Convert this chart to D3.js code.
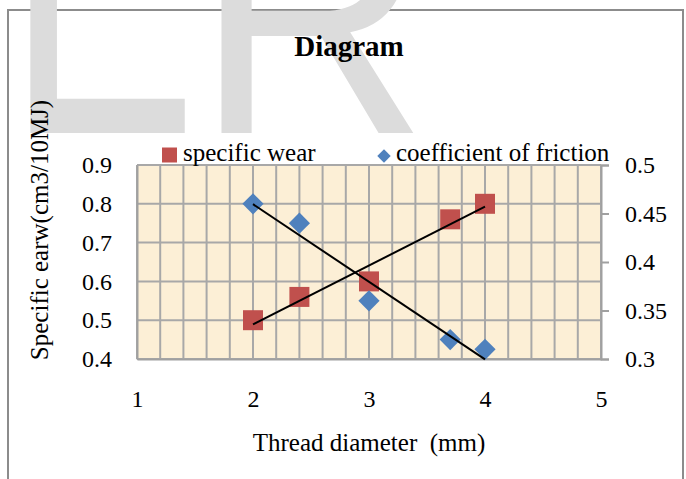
<!DOCTYPE html>
<html>
<head>
<meta charset="utf-8">
<script src="https://cdn.jsdelivr.net/npm/d3@7"></script>
<style>
  body { margin: 0; background: #fff; }
  text { font-family: "Liberation Serif", "Times New Roman", serif; fill: #000; }
</style>
</head>
<body>
<svg id="chart" width="686" height="479"></svg>
<script>
// data
const threadDiameter = [2, 2.4, 3, 3.7, 4];
const specificWear = [0.5, 0.56, 0.6, 0.76, 0.8];
const frictionCoef = [0.46, 0.44, 0.36, 0.32, 0.31];

const xTicks = [1, 2, 3, 4, 5];
const wearTicks = [0.4, 0.5, 0.6, 0.7, 0.8, 0.9];
const frictionTicks = [0.3, 0.35, 0.4, 0.45, 0.5];
const seriesNames = ['specific wear', 'coefficient of friction'];
const seriesColors = ['#c0504d', '#4f81bd'];

const plot = { left: 137, right: 601, top: 165, bottom: 359 };
const serif = '"Liberation Serif", "Times New Roman", serif';

const svg = d3.select('#chart');

// outer chart frame
svg.append('rect')
  .attr('x', 8).attr('y', 10)
  .attr('width', 675).attr('height', 520)
  .attr('fill', 'none')
  .attr('stroke', '#8c8c8c')
  .attr('stroke-width', 2);

// faint watermark letters behind the chart
function watermark(letter, tx, size, sx) {
  svg.append('text')
    .attr('transform', `translate(${tx},133) scale(${sx},1)`)
    .style('font-family', '"Liberation Sans", Arial, sans-serif')
    .style('font-size', size + 'px')
    .style('fill', '#dcdcdc')
    .text(letter);
}
watermark('E', 7, 450, 0.633);
watermark('R', 195, 340, 0.95);

const x = d3.scaleLinear().domain([1, 5]).range([plot.left, plot.right]);
const yWear = d3.scaleLinear().domain([0.4, 0.9]).range([plot.bottom, plot.top]);
const yFric = d3.scaleLinear().domain([0.3, 0.5]).range([plot.bottom, plot.top]);

// plot area
svg.append('rect')
  .attr('x', plot.left).attr('y', plot.top)
  .attr('width', plot.right - plot.left)
  .attr('height', plot.bottom - plot.top)
  .attr('fill', '#fcefd6');

const grid = svg.append('g').attr('stroke', '#a8a8a8').attr('stroke-width', 2);
grid.selectAll('line.v')
  .data(d3.range(0, 21).map(i => 1 + i * 0.2))
  .enter().append('line')
  .attr('class', 'v')
  .attr('x1', d => x(d)).attr('x2', d => x(d))
  .attr('y1', plot.top).attr('y2', plot.bottom);
grid.selectAll('line.h')
  .data(wearTicks)
  .enter().append('line')
  .attr('class', 'h')
  .attr('x1', plot.left).attr('x2', plot.right)
  .attr('y1', d => yWear(d)).attr('y2', d => yWear(d));

// axes
const fmt = d3.format('~f');
const leftAxis = svg.append('g')
  .attr('transform', `translate(${plot.left},0)`)
  .call(d3.axisLeft(yWear).tickValues(wearTicks).tickSize(0).tickPadding(25).tickFormat(fmt));
const rightAxis = svg.append('g')
  .attr('transform', `translate(${plot.right},0)`)
  .call(d3.axisRight(yFric).tickValues(frictionTicks).tickSize(8).tickPadding(16).tickFormat(fmt));
const bottomAxis = svg.append('g')
  .attr('transform', `translate(0,${plot.bottom})`)
  .call(d3.axisBottom(x).tickValues(xTicks).tickSize(0).tickPadding(31).tickFormat(d3.format('d')));

[leftAxis, rightAxis, bottomAxis].forEach(a => {
  a.attr('font-family', null).attr('font-size', null);
  a.select('.domain').attr('stroke', '#a0a0a0').attr('stroke-width', 2);
  a.selectAll('.tick line').attr('stroke', '#a0a0a0').attr('stroke-width', 2);
  a.selectAll('.tick text')
    .style('font-family', serif)
    .style('font-size', '24px')
    .attr('fill', '#000');
});

// least squares trend line over the data range
function trend(xs, ys) {
  const mx = d3.mean(xs), my = d3.mean(ys);
  const sxy = d3.sum(xs, (v, i) => (v - mx) * (ys[i] - my));
  const sxx = d3.sum(xs, v => (v - mx) * (v - mx));
  const slope = sxy / sxx;
  const x0 = d3.min(xs), x1 = d3.max(xs);
  return [[x0, my + slope * (x0 - mx)], [x1, my + slope * (x1 - mx)]];
}

const wearPts = threadDiameter.map((d, i) => [d, specificWear[i]]);
const fricPts = threadDiameter.map((d, i) => [d, frictionCoef[i]]);

// markers
const square = d3.symbol().type(d3.symbolSquare).size(400);
const diamond = d3.symbol().type(d3.symbolSquare).size(225);

svg.append('g').selectAll('path')
  .data(wearPts)
  .enter().append('path')
  .attr('d', square)
  .attr('transform', d => `translate(${x(d[0])},${yWear(d[1])})`)
  .attr('fill', seriesColors[0]);

svg.append('g').selectAll('path')
  .data(fricPts)
  .enter().append('path')
  .attr('d', diamond)
  .attr('transform', d => `translate(${x(d[0])},${yFric(d[1])}) rotate(45)`)
  .attr('fill', seriesColors[1]);

const wearLine = d3.line().x(d => x(d[0])).y(d => yWear(d[1]));
const fricLine = d3.line().x(d => x(d[0])).y(d => yFric(d[1]));

svg.append('path')
  .attr('d', wearLine(trend(threadDiameter, specificWear)))
  .attr('fill', 'none').attr('stroke', '#000').attr('stroke-width', 2);
svg.append('path')
  .attr('d', fricLine(trend(threadDiameter, frictionCoef)))
  .attr('fill', 'none').attr('stroke', '#000').attr('stroke-width', 2);

// legend
const legend = svg.append('g');
legend.append('path')
  .attr('d', d3.symbol().type(d3.symbolSquare).size(225))
  .attr('transform', 'translate(169.5,155)')
  .attr('fill', seriesColors[0]);
legend.append('text')
  .attr('x', 183).attr('y', 161)
  .style('font-size', '25px')
  .text(seriesNames[0]);
legend.append('path')
  .attr('d', d3.symbol().type(d3.symbolSquare).size(90))
  .attr('transform', 'translate(384,156) rotate(45)')
  .attr('fill', seriesColors[1]);
legend.append('text')
  .attr('x', 396).attr('y', 161)
  .style('font-size', '25px')
  .text(seriesNames[1]);

// titles
svg.append('text')
  .attr('x', 349).attr('y', 56)
  .attr('text-anchor', 'middle')
  .style('font-size', '29px')
  .style('font-weight', 'bold')
  .text('Diagram');

svg.append('text')
  .attr('x', 369).attr('y', 451)
  .attr('text-anchor', 'middle')
  .style('font-size', '25px')
  .style('white-space', 'pre')
  .text('Thread diameter  (mm)');

svg.append('text')
  .attr('transform', 'translate(48,230) rotate(-90)')
  .attr('text-anchor', 'middle')
  .style('font-size', '25px')
  .text('Specific earw(cm3/10MJ)');
</script>
</body>
</html>
